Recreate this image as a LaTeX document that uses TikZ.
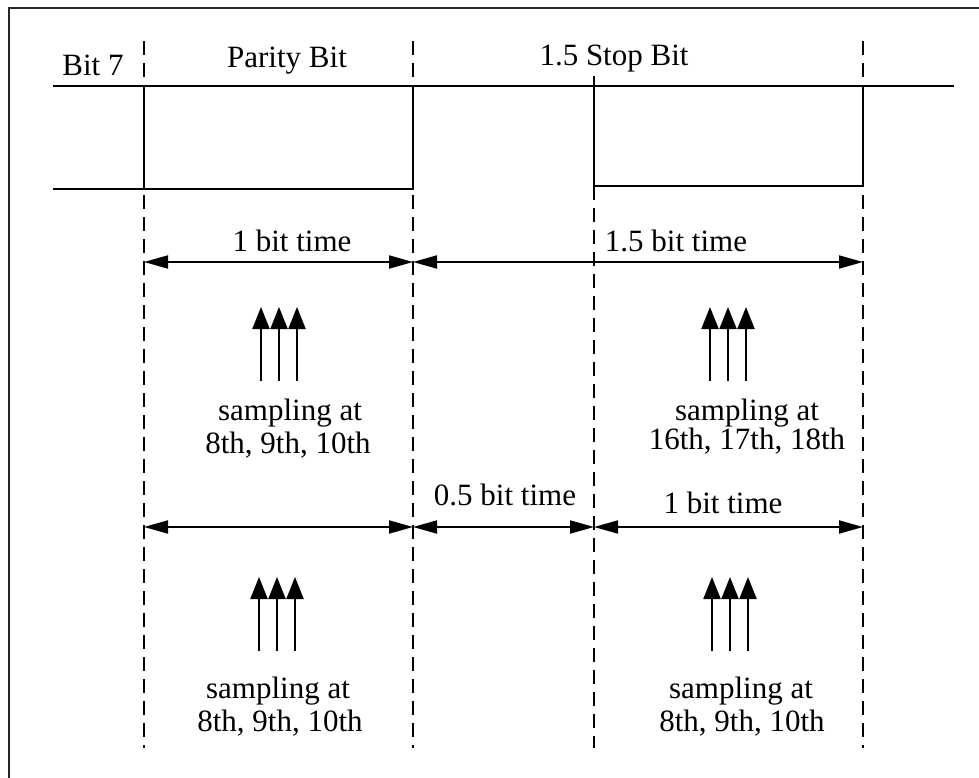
\documentclass[tikz,border=0pt]{standalone}
\usepackage{fontspec}
\setmainfont{Liberation Serif}
\usetikzlibrary{arrows.meta}
\begin{document}
\begin{tikzpicture}[x=1pt,y=-1pt,
  lbl/.style={font=\fontsize{31}{33}\selectfont, inner sep=0pt, anchor=base},
  guide/.style={line width=1.8pt, dash pattern=on 14pt off 8pt},
  sig/.style={line width=2.2pt},
  frame/.style={line width=2pt, draw=black!85},
  dim/.style={line width=1.8pt, {Triangle[length=24pt,width=13pt]}-{Triangle[length=24pt,width=13pt]}},
  samp/.style={line width=2.2pt, -{Triangle[length=22pt,width=17pt]}}]
\useasboundingbox (0,0) rectangle (979,778);
\clip (0,0) rectangle (979,778);
% frame (only top and left edges are inside the picture)
\coordinate (fr1) at (990,8);
\coordinate (fr2) at (9,8);
\coordinate (fr3) at (9,790);
\draw[frame] (fr1) -- (fr2) -- (fr3);
% guide lines
\coordinate (g1t) at (144,41);  \coordinate (g1b) at (144,748);
\coordinate (g2t) at (413,41);  \coordinate (g2b) at (413,748);
\coordinate (g3t) at (594,76);  \coordinate (g3b) at (594,748);
\coordinate (g4t) at (863,41);  \coordinate (g4b) at (863,748);
\draw[guide] (g1t) -- (g1b);
\draw[guide] (g2t) -- (g2b);
\draw[guide] (g3t) -- (g3b);
\draw[guide] (g4t) -- (g4b);
% signal
\coordinate (hs) at (53,86);   \coordinate (he) at (954,86);
\coordinate (ls) at (53,189);  \coordinate (le) at (413,189);
\coordinate (p1h) at (144,86); \coordinate (p1l) at (144,189);
\coordinate (p2h) at (413,86);
\coordinate (s1h) at (594,76); \coordinate (s1l) at (594,186);
\coordinate (s2h) at (863,86); \coordinate (s2l) at (863,186);
\draw[sig] (hs) -- (he);
\draw[sig] (ls) -- (le) -- (p2h);
\draw[sig] (p1h) -- (p1l);
\draw[sig] (s1h) -- (s1l) -- (s2l) -- (s2h);
% titles
\node[lbl] (tb7) at (93,76) {Bit 7};
\node[lbl] (tpb) at (287,68) {Parity Bit};
\node[lbl] (tsb) at (614,66) {1.5 Stop Bit};
% upper dimension lines
\coordinate (u1) at (144,262); \coordinate (u2) at (413,262); \coordinate (u3) at (863,262);
\draw[dim] (u1) -- (u2);
\draw[dim] (u2) -- (u3);
\node[lbl] (tu1) at (292,251) {1 bit time};
\node[lbl] (tu2) at (676,251) {1.5 bit time};
% upper sampling arrows
\foreach \x [count=\i] in {261,279,297} {
  \coordinate (ua\i b) at (\x,381); \coordinate (ua\i t) at (\x,307);
  \draw[samp] (ua\i b) -- (ua\i t);
}
\foreach \x [count=\i] in {710,728,746} {
  \coordinate (ub\i b) at (\x,381); \coordinate (ub\i t) at (\x,307);
  \draw[samp] (ub\i b) -- (ub\i t);
}
\node[lbl] (su1a) at (290,420) {sampling at};
\node[lbl] (su1b) at (288,453) {8th, 9th, 10th};
\node[lbl] (su2a) at (747,420) {sampling at};
\node[lbl] (su2b) at (747,449) {16th, 17th, 18th};
% lower dimension lines
\coordinate (l1) at (144,527); \coordinate (l2) at (413,527);
\coordinate (l3) at (594,527); \coordinate (l4) at (863,527);
\draw[dim] (l1) -- (l2);
\draw[dim] (l2) -- (l3);
\draw[dim] (l3) -- (l4);
\node[lbl] (tl2) at (505,505) {0.5 bit time};
\node[lbl] (tl3) at (723,513) {1 bit time};
% lower sampling arrows
\foreach \x [count=\i] in {259,277,295} {
  \coordinate (la\i b) at (\x,651); \coordinate (la\i t) at (\x,577);
  \draw[samp] (la\i b) -- (la\i t);
}
\foreach \x [count=\i] in {712,730,748} {
  \coordinate (lb\i b) at (\x,651); \coordinate (lb\i t) at (\x,577);
  \draw[samp] (lb\i b) -- (lb\i t);
}
\node[lbl] (sl1a) at (278,698) {sampling at};
\node[lbl] (sl1b) at (280,731) {8th, 9th, 10th};
\node[lbl] (sl2a) at (741,698) {sampling at};
\node[lbl] (sl2b) at (742,731) {8th, 9th, 10th};
\end{tikzpicture}
\end{document}
